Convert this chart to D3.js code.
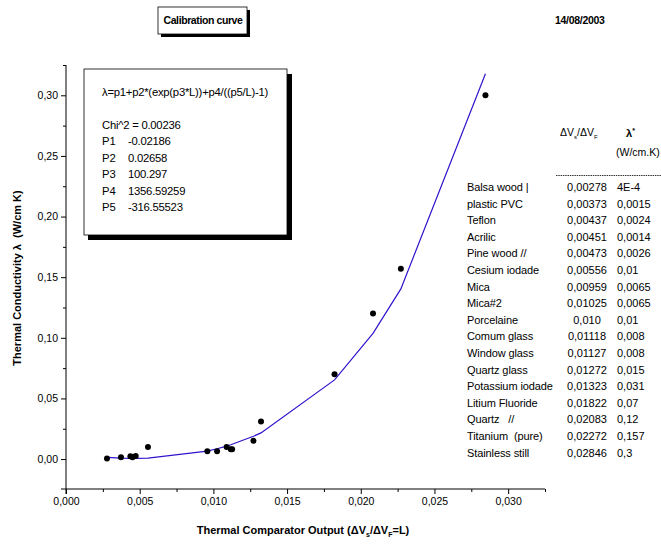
<!DOCTYPE html>
<html>
<head>
<meta charset="utf-8">
<script src="https://cdn.jsdelivr.net/npm/d3@7"></script>
<style>
  body { margin: 0; background: #fff; }
  svg text { font-family: "Liberation Sans", Arial, sans-serif; fill: #000; white-space: pre; }
</style>
</head>
<body>
<div id="chart"></div>
<script>
// measured points (Delta Vs / Delta VF , lambda)
var names = ["Balsa wood |", "plastic PVC", "Teflon", "Acrilic", "Pine wood //", "Cesium iodade",
             "Mica", "Mica#2", "Porcelaine", "Comum glass", "Window glass", "Quartz glass",
             "Potassium iodade", "Litium Fluoride", "Quartz   //", "Titanium  (pure)", "Stainless still"];
var ratioText = ["0,00278", "0,00373", "0,00437", "0,00451", "0,00473", "0,00556", "0,00959", "0,01025",
                 "0,010", "0,01118", "0,01127", "0,01272", "0,01323", "0,01822", "0,02083", "0,02272", "0,02846"];
var lambdaText = ["4E-4", "0,0015", "0,0024", "0,0014", "0,0026", "0,01", "0,0065", "0,0065",
                  "0,01", "0,008", "0,008", "0,015", "0,031", "0,07", "0,12", "0,157", "0,3"];
var xs = [0.00278, 0.00373, 0.00437, 0.00451, 0.00473, 0.00556, 0.00959, 0.01025,
          0.0109, 0.01118, 0.01127, 0.01272, 0.01323, 0.01822, 0.02083, 0.02272, 0.02846];
var ys = [0.0004, 0.0015, 0.0024, 0.0014, 0.0026, 0.01, 0.0065, 0.0065,
          0.01, 0.008, 0.008, 0.015, 0.031, 0.07, 0.12, 0.157, 0.3];
// fitted curve values read at each measured x
var fitX = [0.00278, 0.00373, 0.00437, 0.00451, 0.00473, 0.00556, 0.00959, 0.01025,
            0.0109, 0.01118, 0.01127, 0.01272, 0.01323, 0.01822, 0.02083, 0.02272, 0.02846];
var fitY = [0.0014, 0.0008, 0.0006, 0.0006, 0.0006, 0.0007, 0.0066, 0.0085,
            0.0107, 0.0118, 0.0122, 0.0188, 0.0216, 0.0653, 0.1036, 0.1403, 0.3178];
var fitLines = ["\u03bb=p1+p2*(exp(p3*L))+p4/((p5/L)-1)", "", "Chi^2 = 0.00236"];
var paramNames = ["P1", "P2", "P3", "P4", "P5"];
var paramValues = ["-0.02186", "0.02658", "100.297", "1356.59259", "-316.55523"];
var xTicks = [0, 0.005, 0.010, 0.015, 0.020, 0.025, 0.030];
var yTicks = [0, 0.05, 0.10, 0.15, 0.20, 0.25, 0.30];

var svg = d3.select("#chart").append("svg")
            .attr("width", 661)
            .attr("height", 544);

var x = d3.scaleLinear().domain([0, 0.0325]).range([66, 545]);
var y = d3.scaleLinear().domain([-0.0247, 0.325]).range([489, 65]);

function fmt(d, n){ return d.toFixed(n).replace(".", ","); }

// axes
svg.append("g").attr("transform", "translate(0,489)")
   .call(d3.axisBottom(x).tickValues(xTicks).tickSize(5).tickPadding(4)
           .tickFormat(function(d){ return fmt(d, 3); }));
svg.append("g").attr("transform", "translate(0,489)")
   .call(d3.axisBottom(x).tickValues(d3.range(0.0025, 0.033, 0.005)).tickSize(3).tickFormat(""));
svg.append("g").attr("transform", "translate(66,0)")
   .call(d3.axisLeft(y).tickValues(yTicks).tickSize(5).tickPadding(3)
           .tickFormat(function(d){ return fmt(d, 2); }));
svg.append("g").attr("transform", "translate(66,0)")
   .call(d3.axisLeft(y).tickValues(d3.range(0.025, 0.33, 0.05)).tickSize(3).tickFormat(""));
svg.selectAll(".domain").remove();
svg.selectAll(".tick line").attr("stroke", "#000");
svg.selectAll(".tick text").style("font-size", "10.5px").style("font-family", "Liberation Sans, Arial, sans-serif");

svg.append("line").attr("x1", 61).attr("x2", 545).attr("y1", 489).attr("y2", 489).style("stroke", "black");
svg.append("line").attr("x1", 66).attr("x2", 66).attr("y1", 65).attr("y2", 494).style("stroke", "black");

// axis titles
var xl = svg.append("text").attr("x", 303).attr("y", 534).attr("text-anchor", "middle")
            .style("font-size", "11px").style("font-weight", "bold");
xl.append("tspan").text("Thermal Comparator Output (\u0394V");
xl.append("tspan").text("s").style("font-size", "7px").attr("dy", 3);
xl.append("tspan").text("/\u0394V").attr("dy", -3);
xl.append("tspan").text("F").style("font-size", "7px").attr("dy", 3);
xl.append("tspan").text("=L)").attr("dy", -3);

svg.append("text").attr("transform", "translate(21,278) rotate(-90)")
   .attr("text-anchor", "middle")
   .style("font-size", "11px").style("font-weight", "bold")
   .text("Thermal Conductivity \u03bb  (W/cm K)");

// fit curve
var line = d3.line().x(function(d){ return x(d[0]); }).y(function(d){ return y(d[1]); });
svg.append("path")
   .datum(d3.zip(fitX, fitY))
   .attr("d", line)
   .style("fill", "none")
   .style("stroke", "#3311cc")
   .style("stroke-width", 1.2);

// points
svg.selectAll(".pt").data(d3.zip(xs, ys)).enter().append("circle")
   .attr("class", "pt")
   .attr("cx", function(d){ return x(d[0]); })
   .attr("cy", function(d){ return y(d[1]); })
   .attr("r", 3)
   .style("fill", "black");

// fit box
svg.append("rect").attr("x", 88).attr("y", 74).attr("width", 204).attr("height", 166).style("fill", "black");
svg.append("rect").attr("x", 84).attr("y", 69).attr("width", 203).attr("height", 166)
   .style("fill", "white").style("stroke", "black").style("stroke-width", 0.8);
svg.selectAll(".fl").data(fitLines).enter().append("text")
   .attr("x", 102).attr("y", function(d, i){ return 96 + i * 16.5; })
   .style("font-size", "11.3px").style("letter-spacing", "-0.25px")
   .text(function(d){ return d; });
svg.selectAll(".pn").data(paramNames).enter().append("text")
   .attr("x", 102).attr("y", function(d, i){ return 145 + i * 16.5; })
   .style("font-size", "11.3px")
   .text(function(d){ return d; });
svg.selectAll(".pv").data(paramValues).enter().append("text")
   .attr("x", 128).attr("y", function(d, i){ return 145 + i * 16.5; })
   .style("font-size", "11.3px").style("letter-spacing", "-0.25px")
   .text(function(d){ return d; });

// title box
svg.append("rect").attr("x", 161).attr("y", 10).attr("width", 89).attr("height", 27).style("fill", "black");
svg.append("rect").attr("x", 158).attr("y", 7).attr("width", 89).attr("height", 27)
   .style("fill", "white").style("stroke", "black").style("stroke-width", 0.8);
svg.append("text").attr("x", 203).attr("y", 24).attr("text-anchor", "middle")
   .style("font-size", "10.5px").style("font-weight", "bold").style("letter-spacing", "-0.4px")
   .text("Calibration curve");
svg.append("text").attr("x", 555).attr("y", 24)
   .style("font-size", "10.5px").style("font-weight", "bold").style("letter-spacing", "-0.3px")
   .text("14/08/2003");

// table
var h1 = svg.append("text").attr("x", 560).attr("y", 136).style("font-size", "10.5px");
h1.append("tspan").text("\u0394V");
h1.append("tspan").text("s").style("font-size", "6px").attr("dy", 3);
h1.append("tspan").text("/\u0394V").attr("dy", -3);
h1.append("tspan").text("F").style("font-size", "6px").attr("dy", 3);
var h2 = svg.append("text").attr("x", 626).attr("y", 137).style("font-size", "11px").style("font-weight", "bold");
h2.append("tspan").text("\u03bb");
h2.append("tspan").text("*").style("font-size", "7px").attr("dy", -4);
svg.append("text").attr("x", 616).attr("y", 156).style("font-size", "10.5px").text("(W/cm.K)");
svg.append("line").attr("x1", 556).attr("x2", 661).attr("y1", 175.5).attr("y2", 175.5)
   .style("stroke", "#333").style("stroke-dasharray", "1.5,0.8");

var rows = svg.selectAll(".row").data(names).enter().append("g")
              .attr("transform", function(d, i){ return "translate(0," + (191 + i * 16.6) + ")"; });
rows.append("text").attr("x", 467).style("font-size", "11px").style("letter-spacing", "-0.1px")
    .text(function(d){ return d; });
rows.append("text").attr("x", 587).attr("text-anchor", "middle").style("font-size", "11px")
    .text(function(d, i){ return ratioText[i]; });
rows.append("text").attr("x", 617).style("font-size", "11px")
    .text(function(d, i){ return lambdaText[i]; });
</script>
</body>
</html>
